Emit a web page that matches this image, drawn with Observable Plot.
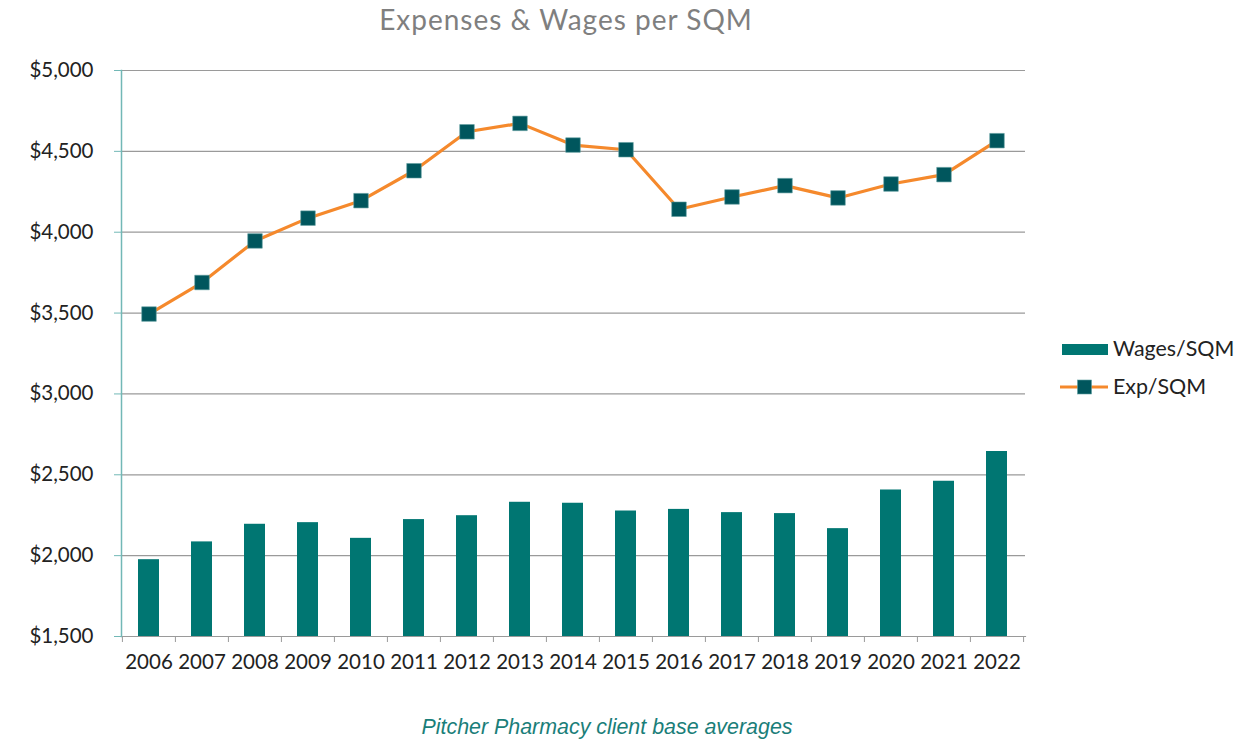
<!DOCTYPE html>
<html>
<head>
<meta charset="utf-8">
<script src="https://cdn.jsdelivr.net/npm/d3@7"></script>
<script src="https://cdn.jsdelivr.net/npm/@observablehq/plot@0.6"></script>
<style>
  html, body { margin: 0; padding: 0; background: #fff; }
  #wrap { position: relative; width: 1246px; height: 747px; overflow: hidden; font-family: Lato, "Open Sans", sans-serif; }
  #chart { position: absolute; left: 0; top: 0; }
  #title { position: absolute; left: 0; width: 1132px; top: 2px; text-align: center; font-size: 28px; letter-spacing: 1px; color: #7f7f7f; }
  #caption { position: absolute; left: 0; width: 1214px; top: 715px; text-align: center; font-family: "Liberation Sans", Arial, sans-serif; font-style: italic; font-size: 21.4px; color: #1a7e79; }
  .leg { position: absolute; left: 1060px; display: flex; align-items: center; font-size: 21.4px; color: #222; }
  .leg svg { margin-right: 3px; }
</style>
</head>
<body>
<div id="wrap">
  <div id="title"></div>
  <div id="chart"></div>
  <div id="legend"></div>
  <div id="caption"></div>
</div>
<script>
const titleText = "Expenses & Wages per SQM";
const captionText = "Pitcher Pharmacy client base averages";
const years = ["2006","2007","2008","2009","2010","2011","2012","2013","2014","2015","2016","2017","2018","2019","2020","2021","2022"];
const wagesPerSqm = [1975, 2085, 2194, 2204, 2107, 2223, 2247, 2330, 2324, 2276, 2286, 2266, 2260, 2167, 2406, 2460, 2644];
const expPerSqm = [3494, 3689, 3946, 4087, 4195, 4380, 4621, 4673, 4539, 4510, 4142, 4218, 4288, 4212, 4298, 4356, 4566];
const seriesNames = ["Wages/SQM", "Exp/SQM"];
const yTicks = [1500, 2000, 2500, 3000, 3500, 4000, 4500, 5000];
const yMin = 1500, yMax = 5000;

const barColor = "#007672";
const lineColor = "#f5892c";
const markerColor = "#00565d";
const axisTeal = "#72b8b6";

const rows = years.map((y, i) => ({year: y, wages: wagesPerSqm[i], exp: expPerSqm[i]}));

const W = 1246, H = 690;
const mL = 121, mR = 221, mT = 70, mB = 54;
const step = (W - mL - mR) / years.length;
const fmt = d3.format("$,");

const chart = Plot.plot({
  width: W, height: H,
  marginLeft: mL, marginRight: mR, marginTop: mT, marginBottom: mB,
  style: {fontFamily: "Lato, 'Open Sans', sans-serif", fontSize: "20.5px", color: "#222", background: "transparent"},
  x: {type: "band", domain: years, paddingInner: 0.6, paddingOuter: 0.3, label: null},
  y: {domain: [yMin, yMax], label: null},
  marks: [
    Plot.gridY(yTicks, {stroke: "#9a9a9a", strokeOpacity: 1, strokeWidth: 1.2}),
    Plot.barY(rows, {x: "year", y1: () => yMin, y2: "wages", fill: barColor}),
    Plot.frame({anchor: "bottom", stroke: "#9a9a9a", strokeWidth: 1.2}),
    Plot.frame({anchor: "left", stroke: axisTeal, strokeWidth: 1.5}),
    Plot.axisY(yTicks, {tickSize: 7, tickPadding: 21, stroke: axisTeal, tickFormat: fmt, fontSize: 20.5, fill: "#222"}),
    Plot.axisX({tickSize: 6, text: null, dx: -step / 2, stroke: "#9a9a9a"}),
    Plot.axisX([years[years.length - 1]], {tickSize: 6, text: null, dx: step / 2, stroke: "#9a9a9a"}),
    Plot.axisX({tickSize: 0, tickPadding: 18, fontSize: 20.5, fill: "#222"}),
    Plot.line(rows, {x: "year", y: "exp", stroke: lineColor, strokeWidth: 3.2}),
    Plot.dot(rows, {x: "year", y: "exp", symbol: "square", r: 8.2, fill: markerColor, stroke: "#5f9ea0", strokeWidth: 0.6})
  ]
});
document.getElementById("chart").appendChild(chart);
document.getElementById("title").textContent = titleText;
document.getElementById("caption").textContent = captionText;

const legend = document.getElementById("legend");
const l1 = document.createElement("div");
l1.className = "leg"; l1.style.top = "335px";
l1.innerHTML = `<svg width="50" height="24"><rect x="2" y="8" width="46" height="11" fill="${barColor}"/></svg><span></span>`;
l1.querySelector("span").textContent = seriesNames[0];
const l2 = document.createElement("div");
l2.className = "leg"; l2.style.top = "373px";
l2.innerHTML = `<svg width="50" height="24"><line x1="0" x2="48" y1="13" y2="13" stroke="${lineColor}" stroke-width="3.2"/><rect x="17.5" y="6" width="14" height="14" fill="${markerColor}" stroke="#5f9ea0" stroke-width="0.6"/></svg><span></span>`;
l2.querySelector("span").textContent = seriesNames[1];
legend.appendChild(l1);
legend.appendChild(l2);
</script>
</body>
</html>
